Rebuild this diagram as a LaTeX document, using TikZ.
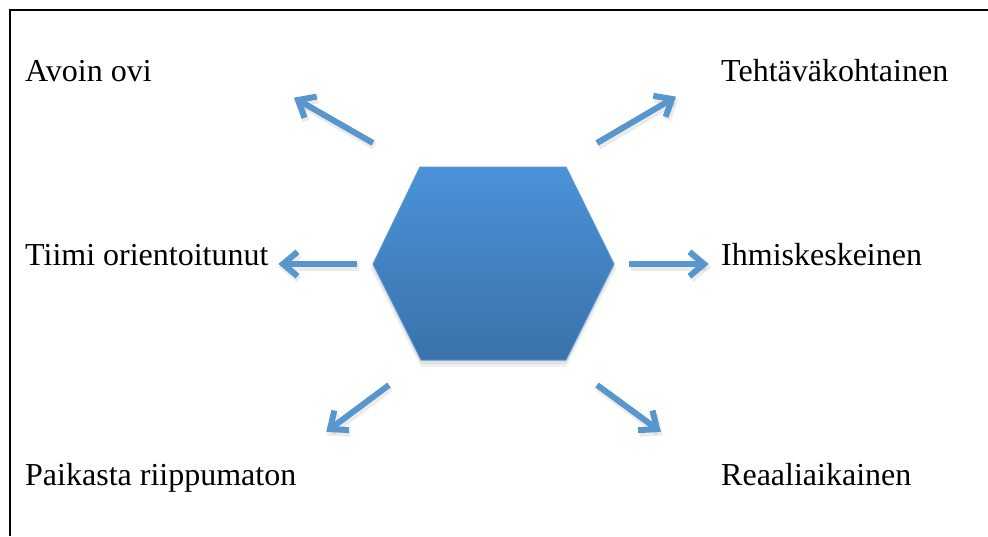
\documentclass[tikz,border=0pt]{standalone}
\usepackage{fontspec}
\setmainfont{Liberation Serif}
\usetikzlibrary{calc}
\definecolor{arrowblue}{RGB}{88,150,206}
\definecolor{hextop}{RGB}{74,146,216}
\definecolor{hexbot}{RGB}{58,114,170}
\definecolor{hexedge}{RGB}{88,150,210}
\begin{document}
\begin{tikzpicture}[x=1pt,y=-1pt,
  lbl/.style={anchor=base west, font=\fontsize{32}{38}\selectfont, inner sep=0pt},
  arr/.style={arrowblue, line width=6pt, line join=miter, miter limit=10},
  arrshadow/.style={black, opacity=0.08, line width=7.5pt, line join=miter, miter limit=10}]
\useasboundingbox (0,0) rectangle (988,536);
\fill[white] (0,0) rectangle (988,536);
% frame
\draw[line width=1.3pt] (10,536) -- (10,10) -- (988,10);
% hexagon corners
\coordinate (h1) at (420,167);
\coordinate (h2) at (566,167);
\coordinate (h3) at (614,264);
\coordinate (h4) at (566,360);
\coordinate (h5) at (421,360);
\coordinate (h6) at (373,264);
\node[inner sep=0pt, minimum size=0pt] (hex) at (493.5,263.5) {};
% shadow
\fill[black, opacity=0.06] ([shift={(0,5)}]h1) -- ([shift={(0,5)}]h2) -- ([shift={(2,5)}]h3) -- ([shift={(0,7)}]h4) -- ([shift={(0,7)}]h5) -- ([shift={(-2,5)}]h6) -- cycle;
\fill[black, opacity=0.06] ([shift={(0,3)}]h1) -- ([shift={(0,3)}]h2) -- ([shift={(1,3)}]h3) -- ([shift={(0,4)}]h4) -- ([shift={(0,4)}]h5) -- ([shift={(-1,3)}]h6) -- cycle;
\shade[top color=hextop, bottom color=hexbot, draw=hexedge, line width=1pt]
  (h1) -- (h2) -- (h3) -- (h4) -- (h5) -- (h6) -- cycle;
% labels
\node[lbl] (avoin) at (25,81) {Avoin ovi};
\node[lbl] (tehta) at (721,81) {Tehtäväkohtainen};
\node[lbl] (tiimi) at (25,265) {Tiimi orientoitunut};
\node[lbl] (ihmis) at (721,265) {Ihmiskeskeinen};
\node[lbl] (paik) at (25,485) {Paikasta riippumaton};
\node[lbl] (reaal) at (721,485) {Reaaliaikainen};
% arrow ends (tip points, miter extends a little further)
\coordinate (aNWs) at (373,143); \coordinate (aNWe) at (298,100);
\coordinate (aNEs) at (597,143); \coordinate (aNEe) at (672,99);
\coordinate (aWs) at (357,264);  \coordinate (aWe) at (283,264);
\coordinate (aEs) at (629,264);  \coordinate (aEe) at (704,264);
\coordinate (aSWs) at (389,385); \coordinate (aSWe) at (330,429);
\coordinate (aSEs) at (597,385); \coordinate (aSEe) at (657,429);
% arrow shadows
\foreach \s/\e in {aNWs/aNWe,aNEs/aNEe,aWs/aWe,aEs/aEe,aSWs/aSWe,aSEs/aSEe}{
  \draw[arrshadow] ([shift={(1.5,3)}]\s) -- ([shift={(1.5,3)}]\e);
  \draw[arrshadow] ($(\e)!19pt!40:(\s)+(1.5,3)$) -- ([shift={(1.5,3)}]\e) -- ($(\e)!19pt!-40:(\s)+(1.5,3)$);
}
% arrows
\foreach \s/\e in {aNWs/aNWe,aNEs/aNEe,aWs/aWe,aEs/aEe,aSWs/aSWe,aSEs/aSEe}{
  \draw[arr] (\s) -- (\e);
  \draw[arr] ($(\e)!19pt!40:(\s)$) -- (\e) -- ($(\e)!19pt!-40:(\s)$);
}
\end{tikzpicture}
\end{document}
